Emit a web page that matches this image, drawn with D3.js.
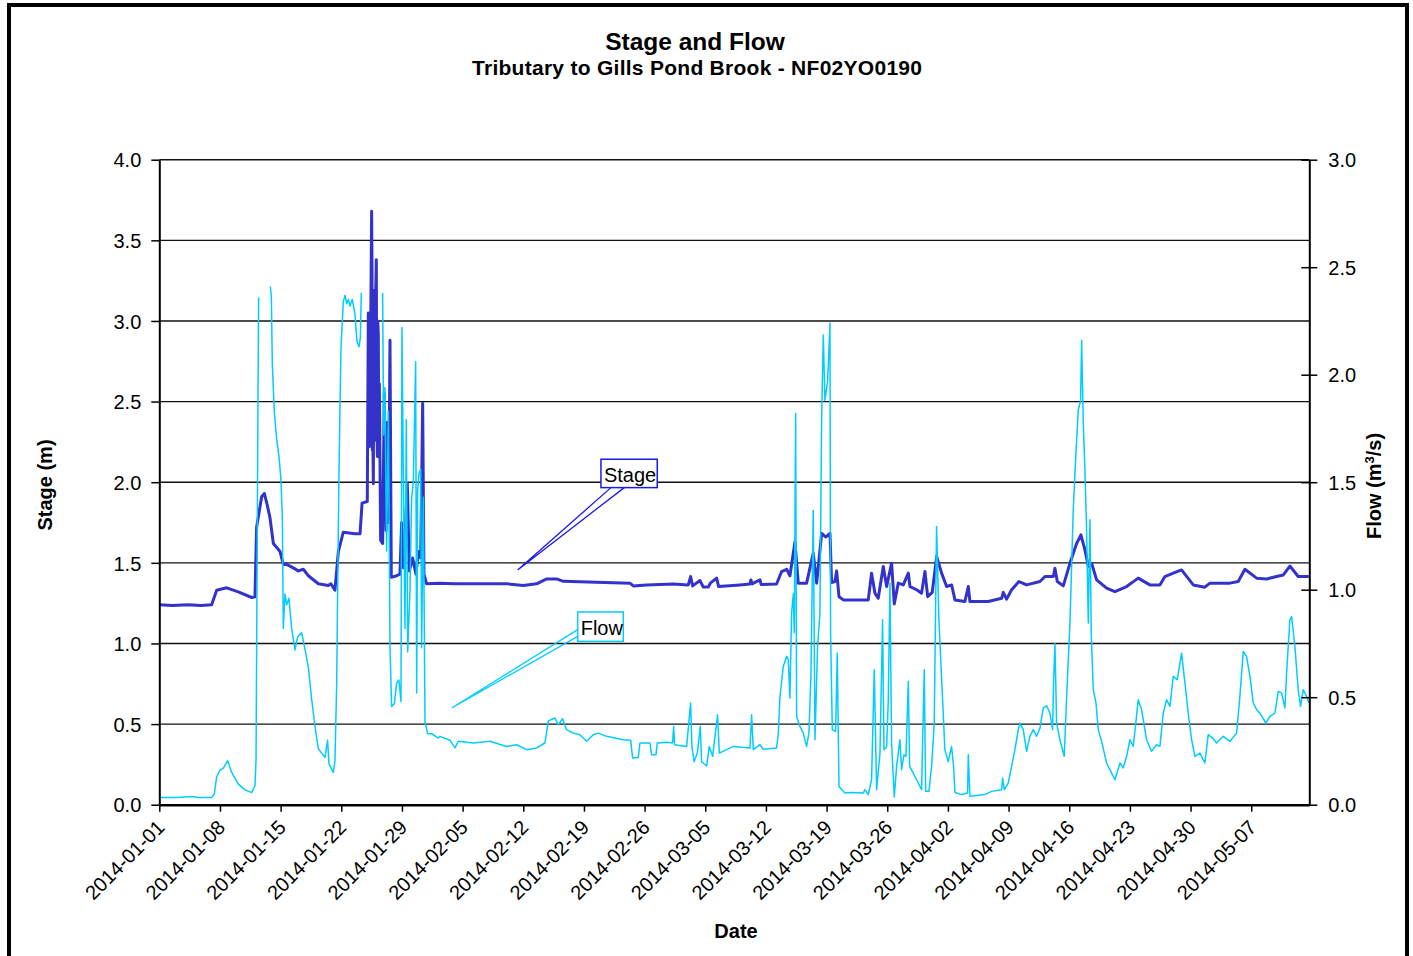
<!DOCTYPE html>
<html>
<head>
<meta charset="utf-8">
<script src="https://cdn.jsdelivr.net/npm/d3@7"></script>
<style>
  body { margin: 0; background: #fff; }
  svg { display: block; }
  text { font-family: "Liberation Sans", Arial, sans-serif; fill: #000; }
</style>
</head>
<body>
<svg id="chart" width="1413" height="956"></svg>
<script>
// ---- Data: days since 2014-01-01 (fractional) with stage (m) and flow (m3/s) ----
const stageDays = [0, 1.5, 3.35, 4.8, 6.04, 6.62, 7.77, 9.12, 10.66, 11.04, 11.23, 11.81, 12.12, 12.45, 12.77, 13.16, 13.93, 14.31, 14.7, 15.4, 16.04, 16.62, 17.2, 18.35, 19.5, 19.8, 20.27, 20.66, 21.23, 22.58, 23.16, 23.4, 24.0, 24.12, 24.17, 24.23, 24.28, 24.33, 24.39, 24.5, 24.55, 24.58, 24.62, 24.7, 24.75, 24.81, 24.87, 24.93, 24.98, 25.04, 25.1, 25.16, 25.21, 25.27, 25.33, 25.39, 25.54, 25.77, 25.96, 26.16, 26.31, 26.46, 26.62, 26.77, 27.39, 27.77, 27.96, 28.16, 28.43, 28.62, 28.85, 29.23, 29.62, 29.89, 30.16, 30.39, 30.54, 30.85, 32.39, 34.0, 36.23, 40.08, 42.0, 43.54, 44.7, 45.85, 46.62, 50.46, 54.31, 54.7, 56.23, 59.3, 61.04, 61.31, 61.54, 62.39, 62.77, 63.35, 63.62, 64.31, 64.54, 67.0, 68.16, 68.27, 68.4, 69.31, 69.45, 71.23, 71.81, 72.39, 72.77, 73.35, 73.73, 74.69, 75.46, 75.85, 76.43, 76.89, 77.39, 77.58, 77.96, 78.16, 78.43, 78.93, 81.81, 82.19, 82.58, 82.96, 83.54, 83.93, 84.5, 84.81, 85.27, 85.85, 86.43, 86.62, 87.39, 87.96, 88.35, 88.66, 89.19, 89.7, 90.27, 90.85, 91.43, 91.81, 92.96, 93.35, 93.54, 95.66, 97.2, 97.39, 97.77, 98.35, 99.2, 100.08, 101.62, 102.2, 103.16, 103.35, 103.62, 104.31, 105.08, 105.85, 106.35, 106.81, 107.2, 107.58, 108.16, 109.31, 110.27, 111.62, 112.96, 114.3, 115.46, 116.04, 117.0, 117.96, 119.31, 120.65, 121.23, 123.54, 124.5, 125.27, 126.62, 127.77, 128.93, 129.7, 130.46, 131.42, 132.65];
const stageValues = [1.24, 1.235, 1.24, 1.235, 1.24, 1.33, 1.345, 1.32, 1.285, 1.29, 1.72, 1.91, 1.93, 1.86, 1.78, 1.62, 1.57, 1.49, 1.49, 1.47, 1.45, 1.46, 1.42, 1.37, 1.36, 1.37, 1.33, 1.57, 1.69, 1.68, 1.68, 1.87, 1.88, 3.05, 2.4, 2.22, 2.9, 2.3, 2.94, 3.68, 3.3, 2.2, 2.37, 1.99, 3.0, 3.19, 3.1, 2.26, 3.2, 3.38, 2.4, 2.16, 3.0, 2.92, 2.2, 2.61, 1.64, 1.62, 2.55, 1.70, 2.37, 1.75, 2.88, 1.41, 1.42, 1.43, 1.75, 1.47, 1.75, 1.99, 1.45, 1.53, 1.43, 1.57, 1.53, 2.49, 1.43, 1.37, 1.374, 1.37, 1.37, 1.37, 1.36, 1.37, 1.40, 1.40, 1.385, 1.38, 1.374, 1.357, 1.363, 1.368, 1.363, 1.415, 1.357, 1.39, 1.35, 1.35, 1.376, 1.405, 1.353, 1.363, 1.369, 1.394, 1.369, 1.394, 1.365, 1.369, 1.446, 1.46, 1.42, 1.63, 1.374, 1.374, 1.56, 1.374, 1.683, 1.66, 1.683, 1.378, 1.384, 1.45, 1.29, 1.27, 1.27, 1.436, 1.312, 1.28, 1.477, 1.353, 1.498, 1.245, 1.374, 1.363, 1.436, 1.353, 1.333, 1.312, 1.446, 1.29, 1.317, 1.54, 1.436, 1.353, 1.363, 1.27, 1.26, 1.353, 1.26, 1.26, 1.28, 1.317, 1.275, 1.333, 1.384, 1.363, 1.384, 1.415, 1.415, 1.466, 1.384, 1.357, 1.497, 1.62, 1.673, 1.58, 1.477, 1.497, 1.394, 1.343, 1.322, 1.353, 1.405, 1.363, 1.363, 1.415, 1.436, 1.456, 1.363, 1.349, 1.374, 1.374, 1.384, 1.46, 1.405, 1.40, 1.415, 1.425, 1.48, 1.415, 1.415];

// null marks a break in the flow record
const flowDays = [0, 2.0, 3.73, 4.5, 6.04, 6.35, 6.62, 7.0, 7.39, 7.89, 8.35, 9.12, 9.89, 10.66, 11.04, 11.16, 11.27, 11.39, 11.46, 11.6, 12.81, 12.93, 13.04, 13.27, 13.54, 13.81, 14.04, 14.2, 14.31, 14.5, 14.7, 14.96, 15.27, 15.66, 15.96, 16.43, 16.73, 17.2, 17.58, 17.96, 18.35, 18.73, 19.12, 19.42, 19.58, 20.08, 20.27, 20.47, 20.58, 20.73, 20.96, 21.23, 21.43, 21.62, 21.81, 22.0, 22.27, 22.58, 22.81, 23.04, 23.2, 23.31, 23.4, 25.77, 25.89, 26.04, 26.23, 26.43, 26.62, 26.81, 27.12, 27.39, 27.65, 27.89, 28.0, 28.16, 28.35, 28.5, 28.66, 28.93, 29.12, 29.31, 29.58, 29.7, 29.81, 29.96, 30.16, 30.27, 30.47, 30.66, 30.97, 31.43, 32.2, 32.39, 33.54, 34.12, 34.5, 36.23, 38.16, 40.08, 41.23, 42.39, 43.54, 44.5, 44.89, 45.66, 46.04, 46.54, 47.0, 47.77, 48.54, 49.31, 50.08, 50.66, 51.62, 53.54, 54.39, 54.62, 55.27, 55.46, 56.62, 56.81, 57.31, 57.46, 58.54, 59.23, 59.35, 59.46, 60.85, 61.31, 61.46, 61.7, 62.08, 62.43, 62.58, 63.16, 63.46, 63.85, 64.42, 64.62, 65.46, 66.23, 68.16, 68.35, 68.54, 69.31, 69.69, 71.23, 71.43, 71.62, 72.0, 72.39, 72.58, 72.77, 72.96, 73.16, 73.27, 73.43, 73.54, 73.92, 74.31, 74.69, 74.96, 75.19, 75.46, 75.66, 75.96, 76.23, 76.43, 76.62, 76.81, 77.12, 77.39, 77.46, 77.66, 78.04, 78.23, 78.43, 79.12, 79.89, 81.23, 81.42, 81.81, 82.19, 82.5, 82.77, 83.16, 83.46, 83.62, 83.93, 84.12, 84.31, 84.5, 84.81, 85.08, 85.46, 85.66, 85.92, 86.16, 86.43, 86.58, 87.0, 87.39, 87.96, 88.27, 88.43, 88.81, 89.12, 89.42, 89.69, 89.96, 90.35, 90.65, 91.04, 91.42, 91.65, 91.81, 92.58, 93.27, 93.35, 93.54, 95.27, 96.04, 97.2, 97.31, 97.5, 97.96, 98.35, 98.73, 99.12, 99.31, 99.69, 100.08, 100.46, 100.85, 101.23, 101.62, 102.0, 102.39, 102.77, 103.08, 103.19, 103.35, 103.54, 103.92, 104.42, 104.7, 105.08, 105.46, 105.77, 106.04, 106.31, 106.43, 106.62, 106.81, 107.0, 107.2, 107.39, 107.54, 107.77, 108.08, 108.35, 108.73, 109.31, 109.89, 110.27, 110.85, 111.23, 111.62, 112.0, 112.39, 112.96, 113.35, 113.92, 114.5, 115.08, 115.46, 115.85, 116.23, 116.62, 117.0, 117.46, 117.96, 118.35, 118.73, 119.12, 119.5, 120.08, 120.65, 121.04, 121.54, 122.0, 122.77, 123.54, 124.31, 124.69, 125.08, 125.46, 125.85, 126.23, 126.62, 127.0, 127.69, 128.16, 128.73, 129.12, 129.5, 129.89, 130.08, 130.46, 130.66, 131.04, 131.42, 131.69, 132.0, 132.39, 132.65];
const flowValues = [0.033, 0.033, 0.038, 0.033, 0.033, 0.05, 0.13, 0.16, 0.17, 0.205, 0.15, 0.096, 0.069, 0.056, 0.088, 0.205, 1.0, 1.90, 2.36, null, 2.41, 2.36, 2.05, 1.83, 1.70, 1.62, 1.51, 1.33, 0.82, 0.98, 0.93, 0.96, 0.82, 0.72, 0.78, 0.80, 0.74, 0.64, 0.49, 0.366, 0.26, 0.24, 0.22, 0.30, 0.19, 0.15, 0.205, 0.57, 1.0, 1.54, 2.12, 2.34, 2.37, 2.33, 2.35, 2.32, 2.35, 2.28, 2.155, 2.13, 2.17, 2.38, null, 2.38, 1.72, 1.94, 1.18, 1.83, 0.73, 0.457, 0.47, 0.566, 0.58, 0.48, 2.22, 1.54, 0.82, 1.79, 0.71, 1.0, 1.43, 1.50, 2.06, 0.52, 1.46, 1.54, 1.56, 0.73, 1.43, 0.385, 0.33, 0.33, 0.31, 0.318, 0.30, 0.264, 0.295, 0.287, 0.295, 0.271, 0.279, 0.256, 0.264, 0.287, 0.39, 0.403, 0.372, 0.40, 0.349, 0.333, 0.325, 0.295, 0.325, 0.333, 0.318, 0.302, 0.30, 0.217, 0.22, 0.287, 0.287, 0.232, 0.232, 0.287, 0.29, 0.287, 0.364, 0.279, 0.271, 0.473, 0.271, 0.20, 0.24, 0.364, 0.20, 0.18, 0.271, 0.225, 0.418, 0.24, 0.256, 0.271, 0.264, 0.418, 0.256, 0.279, 0.258, 0.264, 0.333, 0.503, 0.643, 0.69, 0.674, 0.496, 0.891, 0.98, 0.80, 1.82, 0.41, 0.364, 0.333, 0.271, 0.333, 0.596, 1.37, 0.302, 0.736, 0.891, 1.805, 2.185, 1.88, 1.97, 2.24, 0.80, 0.349, 0.341, 0.705, 0.085, 0.054, 0.057, 0.054, 0.07, 0.047, 0.116, 0.628, 0.07, 0.24, 0.86, 0.256, 0.271, 0.488, 1.03, 0.287, 0.036, 0.178, 0.302, 0.163, 0.232, 0.225, 0.574, 0.178, 0.147, 0.116, 0.07, 0.628, 0.062, 0.062, 0.178, 0.38, 1.294, 0.86, 0.519, 0.256, 0.20, 0.271, 0.178, 0.057, 0.047, 0.054, 0.232, 0.039, 0.047, 0.062, 0.07, 0.124, 0.07, 0.10, 0.178, 0.256, 0.349, 0.38, 0.349, 0.248, 0.318, 0.349, 0.318, 0.356, 0.45, 0.46, 0.426, 0.349, 0.566, 0.75, 0.38, 0.302, 0.225, 0.504, 0.845, 1.37, 1.635, 1.836, 1.88, 2.16, 1.775, 1.557, 1.278, 0.845, 1.325, 0.798, 0.535, 0.474, 0.349, 0.295, 0.194, 0.147, 0.116, 0.194, 0.171, 0.225, 0.302, 0.271, 0.488, 0.442, 0.302, 0.248, 0.279, 0.271, 0.426, 0.488, 0.457, 0.597, 0.581, 0.705, 0.566, 0.426, 0.302, 0.225, 0.24, 0.194, 0.326, 0.31, 0.287, 0.318, 0.295, 0.333, 0.504, 0.713, 0.69, 0.597, 0.474, 0.442, 0.426, 0.38, 0.411, 0.426, 0.527, 0.52, 0.45, 0.612, 0.86, 0.875, 0.736, 0.535, 0.457, 0.535, 0.504, 0.473];

// ---- Axis ticks ----
const dateTickLabels = ["2014-01-01", "2014-01-08", "2014-01-15", "2014-01-22", "2014-01-29", "2014-02-05", "2014-02-12", "2014-02-19", "2014-02-26", "2014-03-05", "2014-03-12", "2014-03-19", "2014-03-26", "2014-04-02", "2014-04-09", "2014-04-16", "2014-04-23", "2014-04-30", "2014-05-07"];
const stageTicks = [0, 0.5, 1.0, 1.5, 2.0, 2.5, 3.0, 3.5, 4.0];
const flowTicks = [0, 0.5, 1.0, 1.5, 2.0, 2.5, 3.0];
const axisEndDay = 132.7;

// Callout anchors (day, value) for the series labels
const stageLabelAnchor = { day: 41.35, value: 1.456 };
const flowLabelAnchor = { day: 33.74, value: 0.45 };

// ---- Colours ----
const stageColor = "#3333CC";
const flowColor = "#00CCFF";
const stageLabelColor = "#1A1AE6";

// ---- Layout ----
const plot = { left: 159.3, right: 1309.3, top: 159.7, bottom: 804.7 };
const t0 = Date.UTC(2014, 0, 1);
const toDate = d => new Date(t0 + d * 864e5);
const parseDay = d3.utcParse("%Y-%m-%d");
const fmtDay = d3.utcFormat("%Y-%m-%d");

const x = d3.scaleUtc().domain([toDate(0), toDate(axisEndDay)]).range([plot.left, plot.right]);
const yStage = d3.scaleLinear().domain([0, 4]).range([plot.bottom, plot.top]);
const yFlow = d3.scaleLinear().domain([0, 3]).range([plot.bottom, plot.top]);

const svg = d3.select("#chart");
const tickFont = "20px";

svg.append("rect").attr("x", 0).attr("y", 0).attr("width", 1413).attr("height", 956).attr("fill", "#fff");
// chart frame
svg.append("rect").attr("x", 9).attr("y", 5).attr("width", 1398).attr("height", 975)
  .attr("fill", "none").attr("stroke", "#000").attr("stroke-width", 4);

// titles
svg.append("text").attr("x", 695).attr("y", 50).attr("text-anchor", "middle")
  .style("font-size", "24.5px").style("font-weight", "bold").text("Stage and Flow");
svg.append("text").attr("x", 697).attr("y", 75).attr("text-anchor", "middle")
  .style("font-size", "21px").style("font-weight", "bold").attr("textLength", 450)
  .text("Tributary to Gills Pond Brook - NF02YO0190");

// horizontal grid lines at stage ticks
svg.append("g").selectAll("line").data(stageTicks.filter(v => v > 0)).join("line")
  .attr("x1", plot.left).attr("x2", plot.right)
  .attr("y1", d => yStage(d)).attr("y2", d => yStage(d))
  .attr("stroke", "#111").attr("stroke-width", 1.4);

// series
const stageData = stageDays.map((d, i) => ({ date: toDate(d), v: stageValues[i] }));
const flowData = flowDays.map((d, i) => ({ date: toDate(d), v: flowValues[i] }));

svg.append("clipPath").attr("id", "plotClip").append("rect")
  .attr("x", plot.left).attr("y", plot.top - 2)
  .attr("width", plot.right - plot.left).attr("height", plot.bottom - plot.top + 2);

const series = svg.append("g").attr("clip-path", "url(#plotClip)");
series.append("path").datum(stageData)
  .attr("fill", "none").attr("stroke", stageColor).attr("stroke-width", 3)
  .attr("stroke-linejoin", "round")
  .attr("d", d3.line().x(d => x(d.date)).y(d => yStage(d.v)));
series.append("path").datum(flowData)
  .attr("fill", "none").attr("stroke", flowColor).attr("stroke-width", 1.5)
  .attr("stroke-linejoin", "round")
  .attr("d", d3.line().defined(d => d.v != null).x(d => x(d.date)).y(d => yFlow(d.v)));

// left axis (stage)
const gl = svg.append("g").attr("transform", `translate(${plot.left},0)`)
  .call(d3.axisLeft(yStage).tickValues(stageTicks).tickFormat(d3.format(".1f")).tickSize(8).tickSizeOuter(0));
gl.select(".domain").attr("stroke", "#000").attr("stroke-width", 2);
gl.selectAll(".tick line").attr("stroke", "#000").attr("stroke-width", 1.5);
gl.selectAll(".tick text").attr("x", -18).attr("dy", "0.36em")
  .style("font-size", tickFont).style("font-family", "'Liberation Sans', Arial, sans-serif").attr("fill", "#000");

// right axis (flow) with crossing ticks
const gr = svg.append("g").attr("transform", `translate(${plot.right},0)`)
  .call(d3.axisRight(yFlow).tickValues(flowTicks).tickFormat(d3.format(".1f")).tickSize(8).tickSizeOuter(0));
gr.select(".domain").attr("stroke", "#000").attr("stroke-width", 2);
gr.selectAll(".tick line").attr("x1", -8).attr("x2", 8).attr("stroke", "#000").attr("stroke-width", 1.5);
gr.selectAll(".tick text").attr("x", 19).attr("dy", "0.36em")
  .style("font-size", tickFont).style("font-family", "'Liberation Sans', Arial, sans-serif").attr("fill", "#000");

// bottom axis (date)
const gb = svg.append("g").attr("transform", `translate(0,${plot.bottom})`)
  .call(d3.axisBottom(x).tickValues(dateTickLabels.map(parseDay)).tickFormat(fmtDay).tickSize(7).tickSizeOuter(0));
gb.select(".domain").attr("stroke", "#000").attr("stroke-width", 2.5);
gb.selectAll(".tick line").attr("stroke", "#000").attr("stroke-width", 1.5);
gb.selectAll(".tick text")
  .attr("x", 0).attr("y", 0).attr("dy", "0.35em")
  .attr("text-anchor", "end")
  .attr("transform", "translate(1,19) rotate(-45)")
  .style("font-size", tickFont).style("font-family", "'Liberation Sans', Arial, sans-serif").attr("fill", "#000");

// axis titles
svg.append("text").attr("transform", "translate(52,485) rotate(-90)").attr("text-anchor", "middle")
  .style("font-size", "20px").style("font-weight", "bold").text("Stage (m)");
const ft = svg.append("text").attr("transform", "translate(1381,486) rotate(-90)").attr("text-anchor", "middle")
  .style("font-size", "20px").style("font-weight", "bold");
ft.append("tspan").text("Flow (m");
ft.append("tspan").attr("dy", -7).style("font-size", "13px").text("3");
ft.append("tspan").attr("dy", 7).text("/s)");
svg.append("text").attr("x", 736).attr("y", 938).attr("text-anchor", "middle")
  .style("font-size", "20px").style("font-weight", "bold").text("Date");

// series callouts
function callout(tipX, tipY, box, base, label, color) {
  const g = svg.append("g");
  g.append("path")
    .attr("d", `M${tipX + base[0][0]},${tipY + base[0][1]}L${tipX},${tipY}L${tipX + base[1][0]},${tipY + base[1][1]}`)
    .attr("fill", "none").attr("stroke", color).attr("stroke-width", 1.3);
  g.append("rect").attr("x", tipX + box.x).attr("y", tipY + box.y)
    .attr("width", box.w).attr("height", box.h)
    .attr("fill", "#fff").attr("stroke", color).attr("stroke-width", 1.5);
  g.append("text").attr("x", tipX + box.x + 3).attr("y", tipY + box.y + box.h - 6)
    .style("font-size", "20px").attr("fill", color).text(label);
}
callout(x(toDate(stageLabelAnchor.day)), yStage(stageLabelAnchor.value),
  { x: 83.3, y: -110.7, w: 56.3, h: 28.4 }, [[93.3, -82.3], [106.6, -82.3]], "Stage", stageLabelColor);
callout(x(toDate(flowLabelAnchor.day)), yFlow(flowLabelAnchor.value),
  { x: 126, y: -96, w: 45.6, h: 29.4 }, [[126, -78.3], [126, -71.6]], "Flow", flowColor);
</script>
</body>
</html>
